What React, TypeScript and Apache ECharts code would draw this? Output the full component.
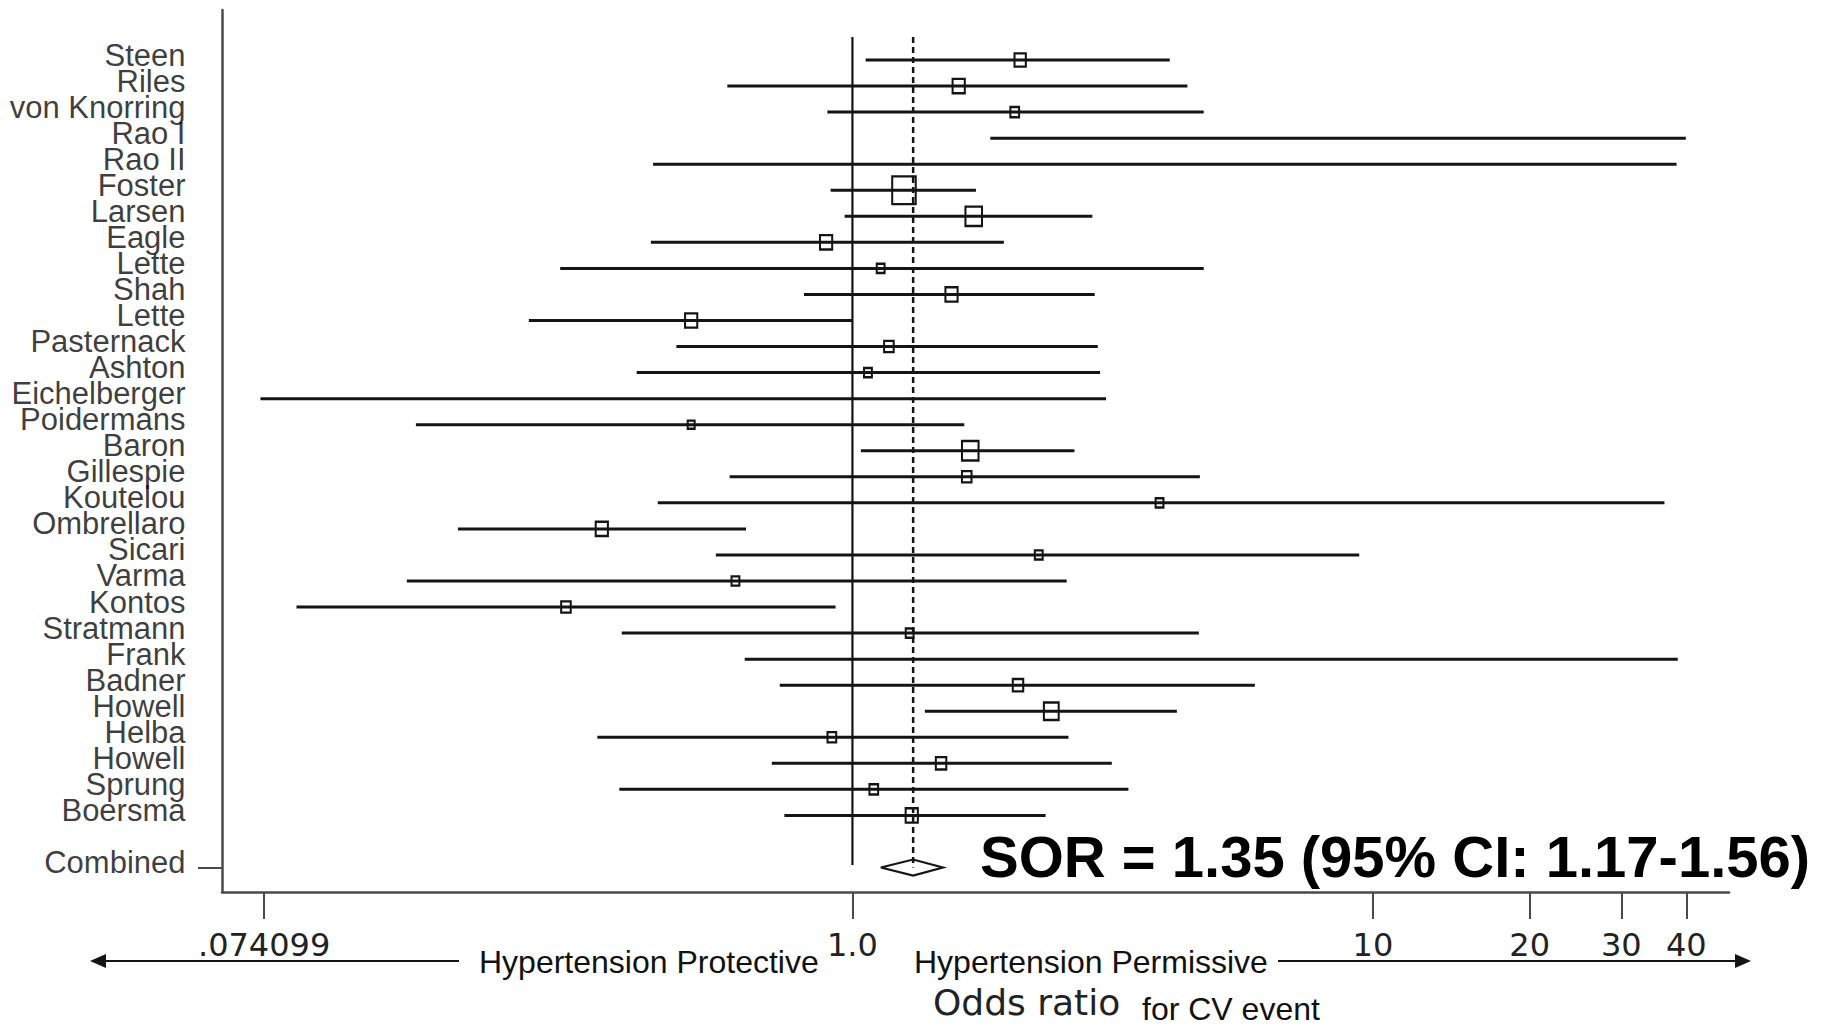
import React, { useEffect, useRef } from "react";
import * as echarts from "echarts";

// ---------- data ----------
const studies = [
  "Steen", "Riles", "von Knorring", "Rao I", "Rao II", "Foster", "Larsen", "Eagle",
  "Lette", "Shah", "Lette", "Pasternack", "Ashton", "Eichelberger", "Poidermans",
  "Baron", "Gillespie", "Koutelou", "Ombrellaro", "Sicari", "Varma", "Kontos",
  "Stratmann", "Frank", "Badner", "Howell", "Helba", "Howell", "Sprung", "Boersma",
];
// point estimate (odds ratio); null = no box drawn
const oddsRatio = [
  2.10, 1.60, 2.05, null, null, 1.256, 1.71, 0.89, 1.133, 1.55, 0.49, 1.175, 1.071, null, 0.49,
  1.684, 1.658, 3.89, 0.33, 2.28, 0.596, 0.2816, 1.288, null, 2.08, 2.41, 0.913, 1.48, 1.099, 1.30,
];
const ciLower = [
  1.06, 0.575, 0.895, 1.84, 0.414, 0.908, 0.966, 0.41, 0.2745, 0.807, 0.239, 0.459, 0.385, 0.0729, 0.145,
  1.038, 0.581, 0.4226, 0.1746, 0.5465, 0.1393, 0.0855, 0.3604, 0.621, 0.725, 1.378, 0.3236, 0.70, 0.3566, 0.74,
];
const ciUpper = [
  4.07, 4.40, 4.73, 39.9, 38.3, 1.727, 2.89, 1.954, 4.73, 2.92, 1.0, 2.96, 2.99, 3.07, 1.64,
  2.67, 4.65, 36.3, 0.6245, 9.41, 2.58, 0.928, 4.63, 38.5, 5.93, 4.20, 2.60, 3.15, 3.39, 2.35,
];
// relative study weights (box area)
const weights = [
  16.9, 19.6, 10, 0, 0, 72.9, 36.1, 19.6, 8.1, 19.6, 19.6, 12.1, 8.1, 0, 6.4,
  36.1, 12.1, 8.1, 19.6, 8.1, 8.1, 12.1, 8.1, 0, 14.4, 28.9, 10, 14.4, 10, 19.6,
];
const combinedLabel = "Combined";
const combinedOR = 1.308;
const combinedLower = 1.134;
const combinedUpper = 1.492;

const tickValues = [0.074099, 1, 10, 20, 30, 40];
const tickLabels = [".074099", "1.0", "10", "20", "30", "40"];
const axisRange = [0.0615, 48.3];

const sorText = "SOR = 1.35 (95% CI: 1.17-1.56)";

// ---------- helpers ----------
const L = (v: number) => Math.log10(v);
const combinedRow = studies.length + 1;
const INK = "#141414";
const AXIS = "#4a4a4a";

export default function App() {
  const ref = useRef<HTMLDivElement>(null);

  useEffect(() => {
    if (!ref.current) return;
    const chart = echarts.init(ref.current, undefined, { renderer: "svg" });

    const ciData = studies.map((_, i) => [L(ciLower[i]), L(ciUpper[i]), i]);
    const boxData: number[][] = [];
    studies.forEach((_, i) => {
      const v = oddsRatio[i];
      if (v != null && weights[i] > 0) boxData.push([L(v), i, weights[i]]);
    });
    const rowNames = studies.concat([combinedLabel]);
    const rowLabelData = studies
      .map((_, i) => ({ value: [L(axisRange[0]), i], name: studies[i] }))
      .concat([{ value: [L(axisRange[0]), combinedRow], name: combinedLabel }]);
    const refTop = -0.88;

    const option: any = {
      animation: false,
      backgroundColor: "#ffffff",
      grid: { left: 222, right: 93, top: 10, bottom: 133, containLabel: false, outerBoundsMode: "none" },
      xAxis: {
        type: "value",
        position: "bottom",
        min: L(axisRange[0]),
        max: L(axisRange[1]),
        axisLine: { show: true, onZero: false, lineStyle: { color: AXIS, width: 2.5 } },
        axisTick: {
          show: true,
          customValues: tickValues.map(L),
          length: 27,
          lineStyle: { color: AXIS, width: 2 },
        },
        axisLabel: {
          show: true,
          customValues: tickValues.map(L),
          hideOverlap: false,
          showMinLabel: true,
          showMaxLabel: true,
          margin: 37,
          fontFamily: "DejaVu Sans",
          fontSize: 32,
          color: "#222",
          formatter: (val: number) => {
            let best = 0;
            tickValues.forEach((t, k) => {
              if (Math.abs(L(t) - val) < Math.abs(L(tickValues[best]) - val)) best = k;
            });
            return tickLabels[best];
          },
        },
        splitLine: { show: false },
      },
      yAxis: {
        type: "value",
        position: "left",
        inverse: true,
        min: -1.92,
        max: 31.94,
        axisLine: { show: true, onZero: false, lineStyle: { color: AXIS, width: 2.5 } },
        axisTick: {
          show: true,
          customValues: [combinedRow],
          length: 24,
          lineStyle: { color: AXIS, width: 2 },
        },
        axisLabel: { show: false },
        splitLine: { show: false },
      },
      series: [
        {
          type: "scatter",
          name: "rowLabels",
          silent: true,
          clip: false,
          symbol: "circle",
          symbolSize: 1,
          itemStyle: { color: "rgba(0,0,0,0)" },
          data: rowLabelData,
          label: {
            show: true,
            position: "left",
            distance: 36,
            fontFamily: "Liberation Sans",
            fontSize: 31,
            lineHeight: 10,
            verticalAlign: "bottom",
            color: "#0a0a0a",
            formatter: (p: any) => rowNames[p.dataIndex],
          },
          labelLayout: { hideOverlap: false },
          z: 1,
        },
        {
          type: "custom",
          name: "ci",
          silent: true,
          encode: { x: [0, 1], y: 2 },
          data: ciData,
          renderItem: (_p: any, api: any) => {
            const a = api.coord([api.value(0), api.value(2)]);
            const b = api.coord([api.value(1), api.value(2)]);
            return {
              type: "line",
              shape: { x1: a[0], y1: a[1], x2: b[0], y2: b[1] },
              style: { stroke: INK, lineWidth: 3 },
            };
          },
          z: 2,
        },
        {
          type: "line",
          name: "null",
          silent: true,
          symbol: "none",
          data: [[L(1), refTop], [L(1), combinedRow - 0.1]],
          lineStyle: { color: INK, width: 2.2 },
          z: 3,
        },
        {
          type: "line",
          name: "pooled",
          silent: true,
          symbol: "none",
          data: [[L(combinedOR), refTop], [L(combinedOR), combinedRow]],
          lineStyle: { color: INK, width: 2.5, type: [6, 4] },
          z: 3,
        },
        {
          type: "scatter",
          name: "studies",
          silent: true,
          symbol: "rect",
          symbolSize: (val: number[]) => {
            const s = Math.sqrt(val[2] * 10.5);
            return [s * 0.85, s];
          },
          data: boxData,
          itemStyle: { color: "rgba(0,0,0,0)", borderColor: INK, borderWidth: 2.2, opacity: 1 },
          z: 4,
        },
        {
          type: "custom",
          name: "combined",
          silent: true,
          encode: { x: [0, 2], y: 3 },
          data: [[L(combinedLower), L(combinedOR), L(combinedUpper), combinedRow]],
          renderItem: (_p: any, api: any) => {
            const l = api.coord([api.value(0), api.value(3)]);
            const c = api.coord([api.value(1), api.value(3)]);
            const h = api.coord([api.value(2), api.value(3)]);
            return {
              type: "polygon",
              shape: { points: [[l[0], c[1]], [c[0], c[1] - 8], [h[0], c[1]], [c[0], c[1] + 8]] },
              style: { fill: "none", stroke: INK, lineWidth: 2.2 },
            };
          },
          z: 5,
        },
      ],
      graphic: [
        {
          type: "text",
          x: 980,
          y: 856,
          style: {
            text: sorText,
            font: 'bold 58px "Liberation Sans", Arial, sans-serif',
            fill: "#000",
            align: "left",
            verticalAlign: "middle",
          },
        },
        { type: "line", shape: { x1: 104, y1: 961, x2: 459, y2: 961 }, style: { stroke: INK, lineWidth: 2 } },
        { type: "polygon", shape: { points: [[90, 961], [106, 954], [106, 968]] }, style: { fill: INK } },
        { type: "line", shape: { x1: 1278, y1: 961, x2: 1736, y2: 961 }, style: { stroke: INK, lineWidth: 2 } },
        { type: "polygon", shape: { points: [[1751, 961], [1735, 954], [1735, 968]] }, style: { fill: INK } },
        {
          type: "text",
          x: 479,
          y: 962,
          style: {
            text: "Hypertension Protective",
            font: '32px "Liberation Sans", Arial, sans-serif',
            fill: "#111",
            align: "left",
            verticalAlign: "middle",
          },
        },
        {
          type: "text",
          x: 914,
          y: 962,
          style: {
            text: "Hypertension Permissive",
            font: '32px "Liberation Sans", Arial, sans-serif',
            fill: "#111",
            align: "left",
            verticalAlign: "middle",
          },
        },
        {
          type: "text",
          x: 933,
          y: 1002,
          style: {
            text: "Odds ratio",
            font: '36px "DejaVu Sans", sans-serif',
            fill: "#222",
            align: "left",
            verticalAlign: "middle",
          },
        },
        {
          type: "text",
          x: 1142,
          y: 1009,
          style: {
            text: "for CV event",
            font: '32px "Liberation Sans", Arial, sans-serif',
            fill: "#111",
            align: "left",
            verticalAlign: "middle",
          },
        },
      ],
    };

    chart.setOption(option);
    return () => chart.dispose();
  }, []);

  return (
    <div
      ref={ref}
      style={{ position: "fixed", left: 0, top: 0, width: 1822, height: 1025, background: "#fff" }}
    />
  );
}
